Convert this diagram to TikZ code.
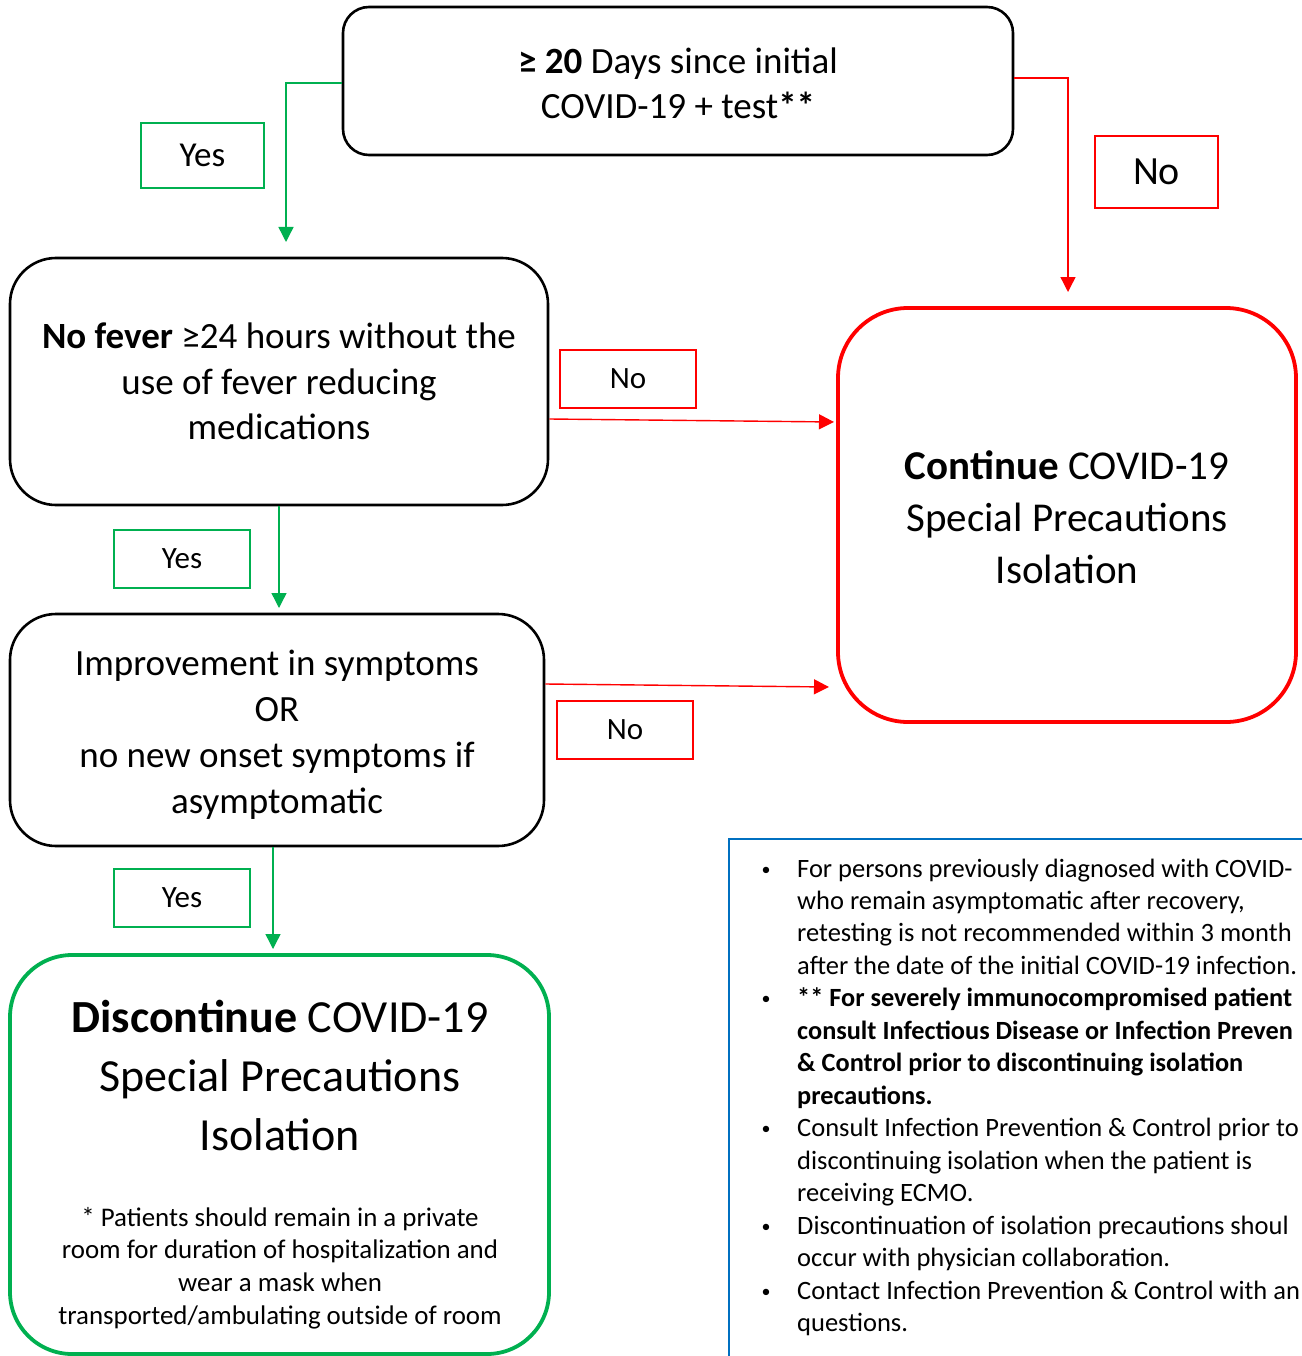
\documentclass[tikz,border=0pt]{standalone}
\usepackage{fontspec}
\setmainfont{Carlito}
\usetikzlibrary{arrows.meta}
\definecolor{cgreen}{HTML}{00B050}
\definecolor{cred}{HTML}{FF0000}
\definecolor{cblue}{HTML}{0070C0}
\begin{document}
\begin{tikzpicture}[x=1pt,y=-1pt,
  decbox/.style={draw=black,line width=2.6pt,fill=white,align=center,inner sep=0pt},
  redbox/.style={draw=cred,line width=3.8pt,rounded corners=70pt,inner sep=0pt},
  greenbox/.style={draw=cgreen,line width=3.8pt,rounded corners=62pt,inner sep=0pt},
  yeslbl/.style={draw=cgreen,line width=1.8pt,inner sep=0pt,font=\fontsize{31}{37}\selectfont},
  nolbl/.style={draw=cred,line width=1.8pt,inner sep=0pt,font=\fontsize{31}{37}\selectfont},
  garrow/.style={draw=cgreen,line width=1.4pt,-{Triangle[width=15pt,length=15pt]}},
  rarrow/.style={draw=cred,line width=1.4pt,-{Triangle[width=15pt,length=15pt]}},
  btxt/.style={anchor=base west,inner sep=0pt,font=\fontsize{26.5}{32}\selectfont},
  bbtxt/.style={anchor=base west,inner sep=0pt,font=\fontsize{26.3}{32}\selectfont\bfseries},
  bdot/.style={anchor=base,inner sep=0pt,font=\fontsize{18}{20}\selectfont}]
\useasboundingbox[fill=white] (0,0) rectangle (1301,1356);

% decision boxes
\node[decbox,rounded corners=26pt,minimum width=670pt,minimum height=148pt] (top) at (678,81) {};
\node[align=center,inner sep=0pt,font=\fontsize{37}{45}\selectfont] (toptext) at (678,83)
  {\textbf{≥ 20} Days since initial\\COVID-19 + test\textbf{**}};
\node[decbox,rounded corners=46pt,minimum width=538pt,minimum height=247pt,
  font=\fontsize{37}{45.5}\selectfont] (fever) at (279,381.5)
  {\textbf{No fever} ≥24 hours without the\\use of fever reducing\\medications};
\node[decbox,rounded corners=46pt,minimum width=534pt,minimum height=232pt] (impr) at (277,730) {};
\node[align=center,inner sep=0pt,font=\fontsize{37}{46}\selectfont] (imprtext) at (277,735)
  {Improvement in symptoms\\OR\\no new onset symptoms if\\asymptomatic};

% outcome boxes
\node[redbox,minimum width=458pt,minimum height=414pt] (cont) at (1067,515) {};
\node[align=center,inner sep=0pt,font=\fontsize{41}{52}\selectfont] (conttext) at (1067,517)
  {\textbf{Continue} COVID-19\\Special Precautions\\Isolation};
\node[greenbox,minimum width=539pt,minimum height=399pt] (disc) at (279.5,1154.5) {};
\node[align=center,inner sep=0pt,font=\fontsize{46}{59}\selectfont] (disctitle) at (280,1075)
  {\textbf{Discontinue} COVID-19\\Special Precautions\\Isolation};
\node[align=center,inner sep=0pt,font=\fontsize{26.9}{32.7}\selectfont] (discnote) at (280,1268)
  {* Patients should remain in a private\\room for duration of hospitalization and\\wear a mask when\\transported/ambulating outside of room};

% labels
\node[yeslbl,minimum width=123pt,minimum height=65pt,font=\fontsize{35}{40}\selectfont] (yes1) at (202.5,155.5) {Yes};
\node[nolbl,minimum width=123pt,minimum height=72pt,font=\fontsize{40}{46}\selectfont] (no1) at (1156.5,172) {No};
\node[nolbl,minimum width=136pt,minimum height=58pt] (no2) at (628,379) {No};
\node[yeslbl,minimum width=136pt,minimum height=58pt] (yes2) at (182,559) {Yes};
\node[nolbl,minimum width=136pt,minimum height=58pt] (no3) at (625,730) {No};
\node[yeslbl,minimum width=136pt,minimum height=58pt] (yes3) at (182,898) {Yes};

% connector ends
\coordinate (e1) at (286,242);
\coordinate (e2) at (1068,292);
\coordinate (e3) at (834,422);
\coordinate (e4) at (279,608);
\coordinate (e5) at (829,687);
\coordinate (e6) at (273,949);

\draw[garrow] ([yshift=-2pt]top.west) -| (e1);
\draw[rarrow] ([yshift=3pt]top.east) -| (e2);
\draw[rarrow] ([yshift=-37.5pt]fever.east) -- (e3);
\draw[garrow] (fever.south) -- (e4);
\draw[rarrow] ([yshift=46pt]impr.east) -- (e5);
\draw[garrow] (impr.south -| e6) -- (e6);

% notes box (runs off the right and bottom edges, as in the reference)
\draw[cblue,line width=1.5pt] (1320,839) -- (729,839) -- (729,1380);
\node[bdot] (d1) at (766,875) {•};
\node[btxt] (n1) at (797,877) {For persons previously diagnosed with COVID-};
\node[btxt] (n2) at (797,909) {who remain asymptomatic after recovery,};
\node[btxt] (n3) at (797,941.5) {retesting is not recommended within 3 month};
\node[btxt] (n4) at (797,974) {after the date of the initial COVID-19 infection.};
\node[bdot] (d2) at (766,1004.5) {•};
\node[bbtxt] (n5) at (797,1006.5) {** For severely immunocompromised patient};
\node[bbtxt] (n6) at (797,1039) {consult Infectious Disease or Infection Preven};
\node[bbtxt] (n7) at (797,1071.5) {\& Control prior to discontinuing isolation};
\node[bbtxt] (n8) at (797,1104) {precautions.};
\node[bdot] (d3) at (766,1134.5) {•};
\node[btxt] (n9) at (797,1136.5) {Consult Infection Prevention \& Control prior to};
\node[btxt] (n10) at (797,1169) {discontinuing isolation when the patient is};
\node[btxt] (n11) at (797,1201.5) {receiving ECMO.};
\node[bdot] (d4) at (766,1232) {•};
\node[btxt] (n12) at (797,1234) {Discontinuation of isolation precautions shoul};
\node[btxt] (n13) at (797,1266.5) {occur with physician collaboration.};
\node[bdot] (d5) at (766,1297) {•};
\node[btxt] (n14) at (797,1299) {Contact Infection Prevention \& Control with an};
\node[btxt] (n15) at (797,1331.5) {questions.};
\end{tikzpicture}
\end{document}
